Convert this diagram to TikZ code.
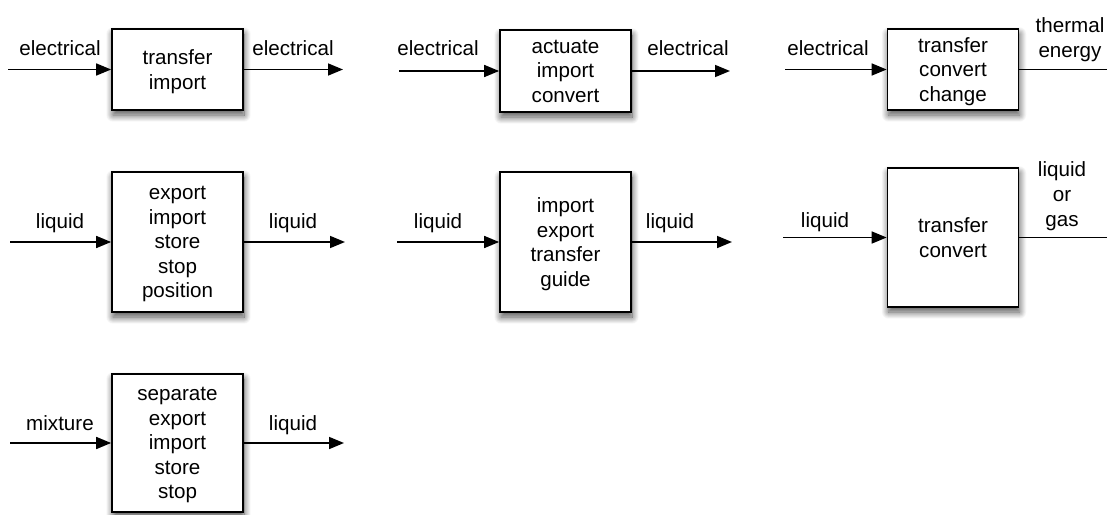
\documentclass[tikz,border=0pt]{standalone}
\usepackage{fontspec}
\setmainfont{Liberation Sans}
\usetikzlibrary{arrows.meta,shadows.blur}
\begin{document}
\begin{tikzpicture}[x=1pt,y=-1pt,
  fnbox/.style={draw=black,line width=1.7pt,fill=white,minimum width=131pt,
    align=center,inner sep=0pt,text depth=0pt,font=\fontsize{20.6}{24.6}\selectfont,
    blur shadow={shadow xshift=1pt,shadow yshift=-5pt,shadow blur radius=7pt,
      shadow opacity=70,shadow blur steps=14}},
  flowlbl/.style={inner sep=0pt,align=center,font=\fontsize{20.6}{25}\selectfont},
  flow/.style={line width=1.6pt,-{Triangle[length=15pt,width=12pt]}}]
\useasboundingbox (0,0) rectangle (1107,514);
\clip (0,0) rectangle (1107,514);

% row 1: electrical flows
\node[fnbox,minimum height=81pt] (b1) at (177.5,69.5) {transfer\\import};
\node[fnbox,minimum height=82pt] (b2) at (565.5,71) {actuate\\import\\convert};
\node[fnbox,minimum height=81pt] (b3) at (953,69.5) {transfer\\convert\\change};

% row 2: liquid flows
\node[fnbox,minimum height=140pt] (b4) at (177.5,242) {export\\import\\store\\stop\\position};
\node[fnbox,minimum height=140pt] (b5) at (565.5,242) {import\\export\\transfer\\guide};
\node[fnbox,minimum height=139pt] (b6) at (953,237.5) {transfer\\convert};

% row 3: mixture
\node[fnbox,minimum height=138pt] (b7) at (177.5,443) {separate\\export\\import\\store\\stop};

% flow ends
\coordinate (i1) at (8,0);   \coordinate (o1) at (343,0);
\coordinate (i2) at (399,0); \coordinate (o2) at (730,0);
\coordinate (i3) at (785,0); \coordinate (o3) at (1122,0);
\coordinate (i4) at (10,0);  \coordinate (o4) at (345,0);
\coordinate (i5) at (397,0); \coordinate (o5) at (732,0);
\coordinate (i6) at (783,0); \coordinate (o6) at (1122,0);
\coordinate (i7) at (10,0);  \coordinate (o7) at (344,0);

\foreach \k in {1,...,7}{
  \draw[flow] (i\k |- b\k.west) -- (b\k.west);
  \draw[flow] (b\k.east) -- (o\k |- b\k.east);
}

% flow labels
\node[flowlbl,anchor=base] (l1a) at (60,55) {electrical};
\node[flowlbl,anchor=base] (l1b) at (293,55) {electrical};
\node[flowlbl,anchor=base] (l2a) at (438,55) {electrical};
\node[flowlbl,anchor=base] (l2b) at (688,55) {electrical};
\node[flowlbl,anchor=base] (l3a) at (828,55) {electrical};
\node[flowlbl] (l3b) at (1070,39.3) {thermal\\energy};

\node[flowlbl,anchor=base] (l4a) at (60,228) {liquid};
\node[flowlbl,anchor=base] (l4b) at (293,228) {liquid};
\node[flowlbl,anchor=base] (l5a) at (438,228) {liquid};
\node[flowlbl,anchor=base] (l5b) at (670,228) {liquid};
\node[flowlbl,anchor=base] (l6a) at (825,227) {liquid};
\node[flowlbl] (l6b) at (1062,196.3) {liquid\\or\\gas};

\node[flowlbl,anchor=base] (l7a) at (60,430) {mixture};
\node[flowlbl,anchor=base] (l7b) at (293,430) {liquid};
\end{tikzpicture}
\end{document}
